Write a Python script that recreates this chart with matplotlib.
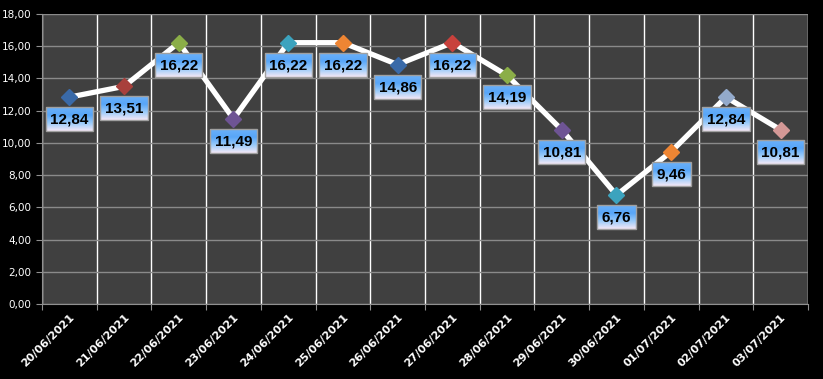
import matplotlib
matplotlib.use("Agg")
import matplotlib.pyplot as plt
import matplotlib.patches as mpatches
import matplotlib.colors as mcolors
import numpy as np

dates = ["20/06/2021", "21/06/2021", "22/06/2021", "23/06/2021", "24/06/2021",
         "25/06/2021", "26/06/2021", "27/06/2021", "28/06/2021", "29/06/2021",
         "30/06/2021", "01/07/2021", "02/07/2021", "03/07/2021"]
values = [12.84, 13.51, 16.22, 11.49, 16.22, 16.22, 14.86, 16.22, 14.19, 10.81,
          6.76, 9.46, 12.84, 10.81]
marker_colors = ["#3A6AA8", "#A8403C", "#8BAE48", "#6E5494", "#3CA3BE", "#EE8533",
                 "#3A6AA8", "#C8413C", "#8BAE48", "#6E5494", "#3CA3BE", "#EE8533",
                 "#93AACB", "#D49896"]
yticks = [0, 2, 4, 6, 8, 10, 12, 14, 16, 18]

W, H = 823, 379
fig = plt.figure(figsize=(W / 100, H / 100), dpi=100, facecolor="black")
ax = fig.add_axes([42 / W, 1 - 304 / H, (808 - 42) / W, (304 - 14) / H])
ax.set_facecolor("#404040")

x = np.arange(len(values)) + 0.5
ax.plot(x, values, color="white", lw=3.8, zorder=3, solid_capstyle="round")
for xi, v, c in zip(x, values, marker_colors):
    ax.plot(xi, v, marker="D", ms=8.5, color=c, mec=c, zorder=4)

ax.set_xlim(0, len(values))
ax.set_ylim(0, 18)
ax.set_yticks(yticks)
ax.set_yticklabels([f"{t:.2f}".replace(".", ",") for t in yticks], color="white", fontsize=7.5)
ax.set_xticks(np.arange(len(values) + 1))
ax.set_xticklabels([])
ax.set_xticks(x, minor=True)
ax.set_xticklabels(dates, minor=True, rotation=45, ha="right", va="top", color="white",
                   fontsize=8, fontweight="bold", rotation_mode="anchor")
ax.tick_params(axis="x", which="minor", length=0, pad=6)
ax.tick_params(axis="both", which="major", color="#909090", length=4, direction="out")
ax.grid(axis="y", color="#8a8a8a", lw=1)
ax.grid(axis="x", which="major", color="white", lw=1)
ax.set_axisbelow(True)
for s in ax.spines.values():
    s.set_visible(False)
ax.spines["bottom"].set_visible(True)
ax.spines["bottom"].set_color("#909090")
ax.spines["left"].set_visible(True)
ax.spines["left"].set_color("#909090")

# overlay axes in pixel units for the gradient labels
ov = fig.add_axes([0, 0, 1, 1], zorder=10)
ov.set_xlim(0, W)
ov.set_ylim(0, H)
ov.axis("off")
ov.patch.set_alpha(0)

renderer = fig.canvas.get_renderer()
cmap = mcolors.LinearSegmentedColormap.from_list("lbl", ["#F4E8F6", "#9ACBFA", "#58A6F8", "#6AB0FA"])
grad = np.linspace(0, 1, 64).reshape(-1, 1)
for xi, v in zip(x, values):
    px, py = ax.transData.transform((xi, v))
    cy = py - 22
    t = ov.text(px, cy - 0.5, f"{v:.2f}".replace(".", ","), ha="center", va="center",
                fontsize=11, fontweight="bold", family="Liberation Sans", color="black", zorder=12)
    bb = t.get_window_extent(renderer)
    w = bb.width + 9
    h = 24
    x0, y0 = px - w / 2, cy - h / 2
    ov.imshow(grad, cmap=cmap, extent=(x0, x0 + w, y0, y0 + h), origin="lower",
              aspect="auto", zorder=11)
    ov.add_patch(mpatches.Rectangle((x0, y0), w, h, fill=False, ec="#a0a0a0", lw=1, zorder=11.5))
ov.set_xlim(0, W)
ov.set_ylim(0, H)

fig.savefig("out.png", dpi=100, facecolor="black")
